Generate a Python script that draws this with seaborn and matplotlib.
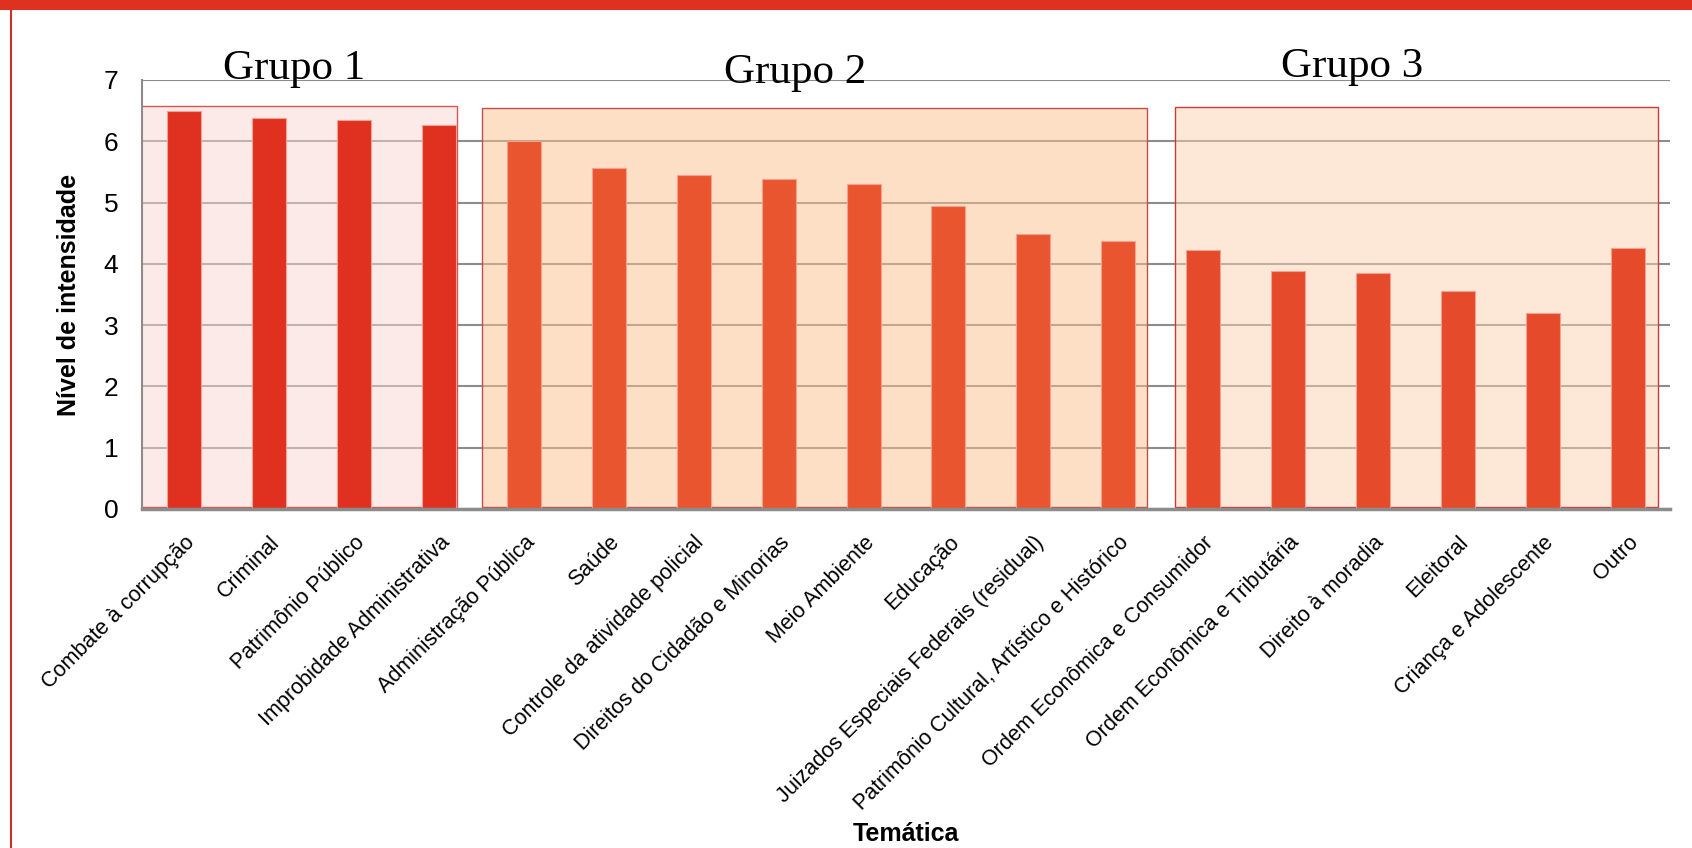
import pandas as pd
import matplotlib
matplotlib.use('Agg')
import matplotlib.pyplot as plt
import matplotlib.patches as mpatches
import matplotlib.transforms as mtransforms
import seaborn as sns

# tematicas, in the order they appear on the x axis
categories = [
    'Combate à corrupção', 'Criminal', 'Patrimônio Público', 'Improbidade Administrativa',
    'Administração Pública', 'Saúde', 'Controle da atividade policial',
    'Direitos do Cidadão e Minorias', 'Meio Ambiente', 'Educação',
    'Juizados Especiais Federais (residual)', 'Patrimônio Cultural, Artístico e Histórico',
    'Ordem Econômica e Consumidor', 'Ordem Econômica e Tributária', 'Direito à moradia',
    'Eleitoral', 'Criança e Adolescente', 'Outro',
]
intensity = [6.50, 6.38, 6.35, 6.26, 6.00, 5.56, 5.45, 5.38, 5.30, 4.94,
             4.48, 4.38, 4.23, 3.88, 3.85, 3.56, 3.20, 4.26]
groups = ['Grupo 1'] * 4 + ['Grupo 2'] * 8 + ['Grupo 3'] * 6
group_names = ['Grupo 1', 'Grupo 2', 'Grupo 3']

bar_colors = {'Grupo 1': '#e0301f', 'Grupo 2': '#e8552f', 'Grupo 3': '#e54b2a'}
box_fill = {'Grupo 1': '#f9d7d1', 'Grupo 2': '#fbc18d', 'Grupo 3': '#fdd1af'}
box_edge = {'Grupo 1': '#d9534f', 'Grupo 2': '#c0504d', 'Grupo 3': '#cc3b3b'}
# box extents (x0, x1, top) in data units, and label anchor (x, y)
box_extent = {'Grupo 1': (-0.51, 3.21, 6.57), 'Grupo 2': (3.50, 11.34, 6.54), 'Grupo 3': (11.67, 17.36, 6.56)}
label_pos = {'Grupo 1': (1.29, 7.19), 'Grupo 2': (7.2, 7.12), 'Grupo 3': (13.75, 7.22)}

sns.set_style('white')
plt.rcParams['font.family'] = ['Liberation Sans', 'DejaVu Sans']
plt.rcParams['text.color'] = 'black'
plt.rcParams['axes.labelcolor'] = 'black'
plt.rcParams['xtick.color'] = 'black'
plt.rcParams['ytick.color'] = 'black'

df = pd.DataFrame({'Temática': categories, 'Nível': intensity, 'Grupo': groups})

fig = plt.figure(figsize=(16.92, 8.48), dpi=100)
ax = fig.add_axes([0.0839, 0.3998, 0.9031, 0.5059])

sns.barplot(data=df, x='Temática', y='Nível', hue='Grupo', palette=bar_colors,
            dodge=False, width=0.4, saturation=1, legend=False, ax=ax, zorder=3,
            edgecolor='#f4a090', linewidth=0.8)

for g in group_names:
    x0, x1, top = box_extent[g]
    rect = mpatches.Rectangle((x0, 0.03), x1 - x0, top - 0.03,
                              facecolor=matplotlib.colors.to_rgba(box_fill[g], 0.5),
                              edgecolor=box_edge[g], linewidth=1.0, zorder=2)
    ax.add_patch(rect)
    lx, ly = label_pos[g]
    ax.text(lx, ly, g, ha='center', va='center', fontsize=31,
            family=['Liberation Serif', 'DejaVu Serif'], zorder=5)

ax.set_xlim(-0.5, len(categories) - 0.5)
ax.set_ylim(0, 7)
ax.set_yticks(range(8))
ax.yaxis.grid(True, color='#8c8c8c', linewidth=1.5, zorder=1)
ax.set_axisbelow(True)
for side in ['top', 'right']:
    ax.spines[side].set_visible(False)
ax.spines['left'].set_color('#8c8c8c')
ax.spines['left'].set_linewidth(1.5)
ax.spines['bottom'].set_color('#8c8c8c')
ax.spines['bottom'].set_linewidth(2.5)
ax.spines['bottom'].set_zorder(4)

ax.tick_params(axis='y', length=0, pad=17, labelsize=19)
ax.tick_params(axis='x', length=0, pad=17, labelsize=15.5)
shift = mtransforms.ScaledTranslation(0.075, -0.07, fig.dpi_scale_trans)
for lbl in ax.get_xticklabels():
    lbl.set_rotation(45)
    lbl.set_ha('right')
    lbl.set_va('center')
    lbl.set_rotation_mode('anchor')
    lbl.set_transform(lbl.get_transform() + shift)

ax.set_ylabel('Nível de intensidade', fontsize=18, fontweight='bold', labelpad=16)
ax.set_xlabel('Temática', fontsize=18, fontweight='bold')
ax.xaxis.set_label_coords(0.5, -0.73)

# red frame of the slide: thick band on top, thin line on the left
fig.patches.append(mpatches.Rectangle((0, 1 - 10 / 848), 1, 10 / 848, transform=fig.transFigure,
                                      facecolor='#e0301f', edgecolor='none'))
fig.add_artist(plt.Line2D([10.5 / 1692, 10.5 / 1692], [0, 1 - 10 / 848], transform=fig.transFigure,
                          color='#c8322a', linewidth=1.5))

fig.savefig('out.png', dpi=100)
